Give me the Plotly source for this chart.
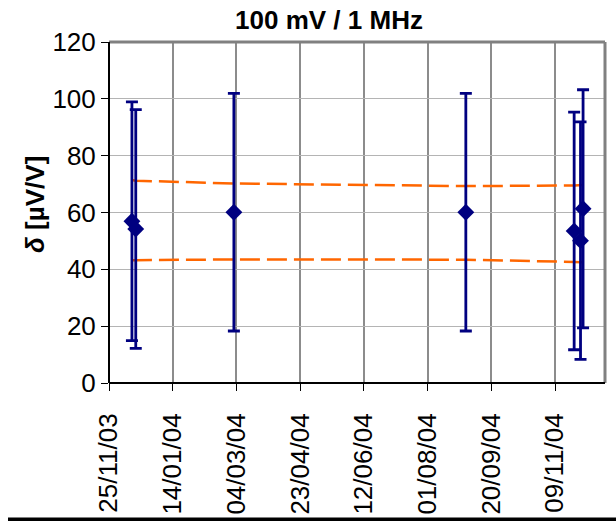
import plotly.graph_objects as go

# ---- data ----
dates = ["2003-12-13", "2003-12-16", "2004-03-02", "2004-08-31",
         "2004-11-24", "2004-11-29", "2004-12-01"]
delta = [56.9, 54.2, 60.1, 60.1, 53.5, 50.1, 61.3]
err = [42.0, 42.0, 41.8, 41.8, 41.8, 41.8, 41.9]
upper = [71.4, 71.2, 70.2, 69.3, 69.5, 69.6, 69.7]
lower = [43.2, 43.2, 43.5, 43.4, 42.6, 42.5, 42.5]
tick_dates = ["2003-11-25", "2004-01-14", "2004-03-04", "2004-04-23",
              "2004-06-12", "2004-08-01", "2004-09-20", "2004-11-09"]
tick_labels = ["25/11/03", "14/01/04", "04/03/04", "23/04/04",
               "12/06/04", "01/08/04", "20/09/04", "09/11/04"]
y_ticks = [0, 20, 40, 60, 80, 100, 120]

FONT = "Liberation Sans, Arial, sans-serif"
W, H = 616, 521
L, R, T, B = 109, 605, 42, 383

def px(x):
    return (x - L) / (R - L)

def py(y):
    return (B - y) / (B - T)

fig = go.Figure()
for band in (upper, lower):
    fig.add_trace(go.Scatter(
        x=dates, y=band, mode="lines",
        line=dict(color="#FF6600", width=2.5, dash="20px,7px"),
        hoverinfo="skip", showlegend=False))

fig.add_trace(go.Scatter(
    x=dates, y=delta, mode="markers",
    marker=dict(symbol="diamond", size=13, color="#000080"),
    error_y=dict(type="data", array=err, visible=True,
                 color="#000080", thickness=2.8, width=6),
    showlegend=False))

shapes = [
    dict(type="line", xref="paper", yref="paper", x0=0, x1=1, y0=1, y1=1,
         line=dict(color="#808080", width=3)),
    dict(type="line", xref="paper", yref="paper", x0=1, x1=1, y0=0, y1=1,
         line=dict(color="#808080", width=3)),
    dict(type="line", xref="paper", yref="paper", x0=0, x1=0, y0=0, y1=1,
         line=dict(color="black", width=2)),
    dict(type="line", xref="paper", yref="paper", x0=0, x1=1, y0=0, y1=0,
         line=dict(color="black", width=2)),
    dict(type="rect", xref="paper", yref="paper",
         x0=px(8), x1=px(620), y0=py(521), y1=py(517.5),
         fillcolor="black", line=dict(width=0)),
]

fig.update_layout(
    width=W, height=H,
    margin=dict(l=L, r=W - R, t=T, b=H - B, autoexpand=False),
    paper_bgcolor="white", plot_bgcolor="white",
    font=dict(family=FONT, color="black"),
    title=dict(text="<b>100 mV / 1 MHz</b>", x=px(329), xanchor="center",
               xref="paper", y=1 - 19.5 / H, yanchor="middle", automargin=False,
               font=dict(size=26, family=FONT, color="black")),
    shapes=shapes,
    annotations=[dict(text="<b><i>δ</i> [µV/V]</b>", xref="paper", yref="paper",
                      x=px(35), y=py(205), textangle=-90, showarrow=False,
                      font=dict(size=26, family=FONT, color="black"),
                      xanchor="center", yanchor="middle")],
)

fig.update_xaxes(
    type="date", range=["2003-11-25", "2004-12-18 05:00"],
    tickvals=tick_dates, ticktext=tick_labels, tickangle=-90,
    ticks="outside", ticklen=7, tickcolor="black", tickwidth=1,
    showgrid=True, gridcolor="#8c8c8c", gridwidth=2,
    showline=False, zeroline=False, automargin=False,
    tickfont=dict(size=26, family=FONT, color="black"),
    ticklabelstandoff=12,
)
fig.update_yaxes(
    range=[0, 120], tickvals=y_ticks, ticksuffix="\u00a0\u00a0\u00a0",
    ticks="outside", ticklen=7, tickcolor="black", tickwidth=1,
    showgrid=True, gridcolor="#b4b4b4", gridwidth=1,
    showline=False, zeroline=False, automargin=False,
    tickfont=dict(size=26, family=FONT, color="black"),
)

fig.write_html("out.html")
